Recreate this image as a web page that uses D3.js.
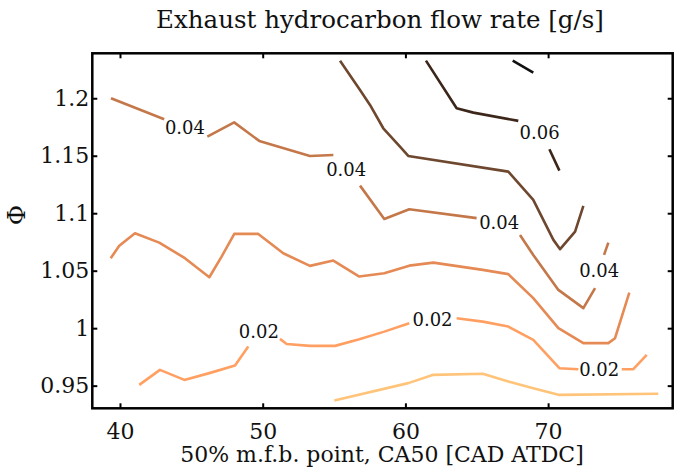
<!DOCTYPE html>
<html>
<head>
<meta charset="utf-8">
<script src="https://cdn.jsdelivr.net/npm/d3@7"></script>
<style>
  html, body { margin: 0; padding: 0; background: #fff; }
  svg { display: block; }
  text { font-family: "DejaVu Serif", "Liberation Serif", serif; fill: #111; }
</style>
</head>
<body>
<svg id="chart" width="675" height="476"></svg>
<script>
// Contour levels of the exhaust hydrocarbon flow rate [g/s]
const levels = [0.01, 0.02, 0.03, 0.04, 0.05, 0.06, 0.07];
const levelColors = ["#ffc47a", "#ffa062", "#e58a54", "#c4784a", "#6e472f", "#3c2619", "#111111"];

// Each contour: list of polyline pieces [CA50, Phi] (gaps are where labels sit)
const contour01 = [
  [[55.02,0.937],[60.2,0.9522],[61.96,0.9594],[65.42,0.9603],[67.21,0.9536],[68.96,0.9478],[70.72,0.942],[77.72,0.9429]]
];
const contour02 = [
  [[41.35,0.9507],[42.8,0.9637],[44.51,0.955],[46.26,0.9609],[48.06,0.9675],[48.99,0.984]],
  [[51.21,0.9907],[51.68,0.9863],[53.31,0.9846],[55.07,0.9846],[56.77,0.9904],[58.52,0.997],[60.27,1.0043]],
  [[63.59,1.0087],[65.42,1.0057],[67.21,1.0014],[68.96,0.9898],[70.79,0.9652],[72.12,0.9643]],
  [[75.16,0.9643],[75.97,0.9643],[76.91,0.9767]]
];
const contour03 = [
  [[39.35,1.0609],[39.95,1.0716],[41.05,1.0826],[42.75,1.0744],[44.55,1.0609],[46.26,1.0443],[47.12,1.0623],
   [48.01,1.082],[49.69,1.082],[51.44,1.0652],[53.31,1.0542],[54.95,1.0588],[56.77,1.0449],[58.52,1.0478],
   [60.27,1.0544],[61.96,1.057],[65.42,1.0507],[67.21,1.047],[68.96,1.0261],[70.72,1.0],[72.47,0.987],
   [74.22,0.987],[74.69,0.9913],[75.69,1.031]]
];
const contour04 = [
  [[39.37,1.2],[43.1,1.1817]],
  [[46.12,1.1666],[48.0,1.179],[49.76,1.1629],[53.31,1.1498],[54.95,1.1507]],
  [[56.82,1.124],[58.52,1.095],[60.27,1.1035],[64.99,1.0957]],
  [[68.03,1.0811],[68.96,1.0637],[70.72,1.0333],[72.47,1.0174],[73.29,1.0348]],
  [[73.92,1.0637],[74.22,1.0744]]
];
const contour05 = [
  [[55.42,1.2327],[56.82,1.2072],[57.52,1.1942],[58.45,1.1739],[59.62,1.158],[60.2,1.1498],[67.21,1.1362],
   [68.96,1.1116],[70.37,1.0768],[70.84,1.0687],[71.89,1.084],[72.47,1.1063]]
];
const contour06 = [
  [[61.44,1.2327],[63.59,1.1913],[64.76,1.1875],[67.91,1.1803]],
  [[70.09,1.1556],[70.79,1.137]]
];
const contour07 = [
  [[67.52,1.2327],[68.96,1.2223]]
];
const contours = [contour01, contour02, contour03, contour04, contour05, contour06, contour07];

// Inline contour labels
const labelX = [44.55, 55.85, 66.57, 73.58, 69.40, 49.73, 61.90, 73.58];
const labelY = [1.1748, 1.1376, 1.092, 1.05, 1.1703, 0.997, 1.0072, 0.9644];
const labelLevel = [0.04, 0.04, 0.04, 0.04, 0.06, 0.02, 0.02, 0.02];

const xTicks = [40, 50, 60, 70];
const yTicks = [0.95, 1, 1.05, 1.1, 1.15, 1.2];

const svg = d3.select("#chart");
const margin = { left: 92.3, top: 53.3, right: 2.3, bottom: 67.7 };
const W = 675, H = 476;

const x = d3.scaleLinear().domain([38.06, 78.73]).range([margin.left, W - margin.right]);
const y = d3.scaleLinear().domain([0.9303, 1.2391]).range([H - margin.bottom, margin.top]);
const color = d3.scaleOrdinal().domain(levels).range(levelColors);

const line = d3.line().x(d => x(d[0])).y(d => y(d[1]));

// contour lines
const g = svg.append("g");
contours.forEach((pieces, i) => {
  g.selectAll(null).data(pieces).enter().append("path")
    .attr("d", line)
    .attr("fill", "none")
    .attr("stroke", color(levels[i]))
    .attr("stroke-width", 2.6)
    .attr("stroke-linejoin", "round")
    .attr("stroke-linecap", "butt");
});

// labels
const fmt = d3.format(".2f");
svg.append("g").selectAll("text").data(labelX).enter().append("text")
  .attr("x", (d, i) => x(d))
  .attr("y", (d, i) => y(labelY[i]))
  .attr("dy", "0.36em")
  .attr("text-anchor", "middle")
  .style("font-size", "18px")
  .text((d, i) => fmt(labelLevel[i]));

// axes with inward ticks on all four sides
const tickFmtY = d => String(d);
const axB = svg.append("g").attr("transform", `translate(0,${H - margin.bottom})`)
  .call(d3.axisBottom(x).tickValues(xTicks).tickSize(-5).tickPadding(15).tickFormat(d => d));
const axT = svg.append("g").attr("transform", `translate(0,${margin.top})`)
  .call(d3.axisTop(x).tickValues(xTicks).tickSize(-5).tickFormat(""));
const axL = svg.append("g").attr("transform", `translate(${margin.left},0)`)
  .call(d3.axisLeft(y).tickValues(yTicks).tickSize(-5).tickPadding(3).tickFormat(tickFmtY));
const axR = svg.append("g").attr("transform", `translate(${W - margin.right},0)`)
  .call(d3.axisRight(y).tickValues(yTicks).tickSize(-5).tickFormat(""));

[axB, axT, axL, axR].forEach(a => {
  a.select(".domain").remove();
  a.selectAll(".tick line").attr("stroke", "#000").attr("stroke-width", 2);
  a.selectAll(".tick text").style("font-size", "22px").style("font-family", "DejaVu Serif, serif").attr("fill", "#111");
});

// frame
svg.append("rect")
  .attr("x", margin.left).attr("y", margin.top)
  .attr("width", W - margin.right - margin.left)
  .attr("height", H - margin.bottom - margin.top)
  .attr("fill", "none").attr("stroke", "#000").attr("stroke-width", 2.5);

// titles
svg.append("text").attr("x", 380).attr("y", 28).attr("text-anchor", "middle")
  .style("font-size", "24.5px").text("Exhaust hydrocarbon flow rate [g/s]");
svg.append("text").attr("x", 382).attr("y", 462).attr("text-anchor", "middle")
  .style("font-size", "22px").text("50% m.f.b. point, CA50 [CAD ATDC]");
svg.append("text").attr("transform", "translate(25,215) rotate(-90)").attr("text-anchor", "middle")
  .style("font-size", "25px").text("Φ");
</script>
</body>
</html>
